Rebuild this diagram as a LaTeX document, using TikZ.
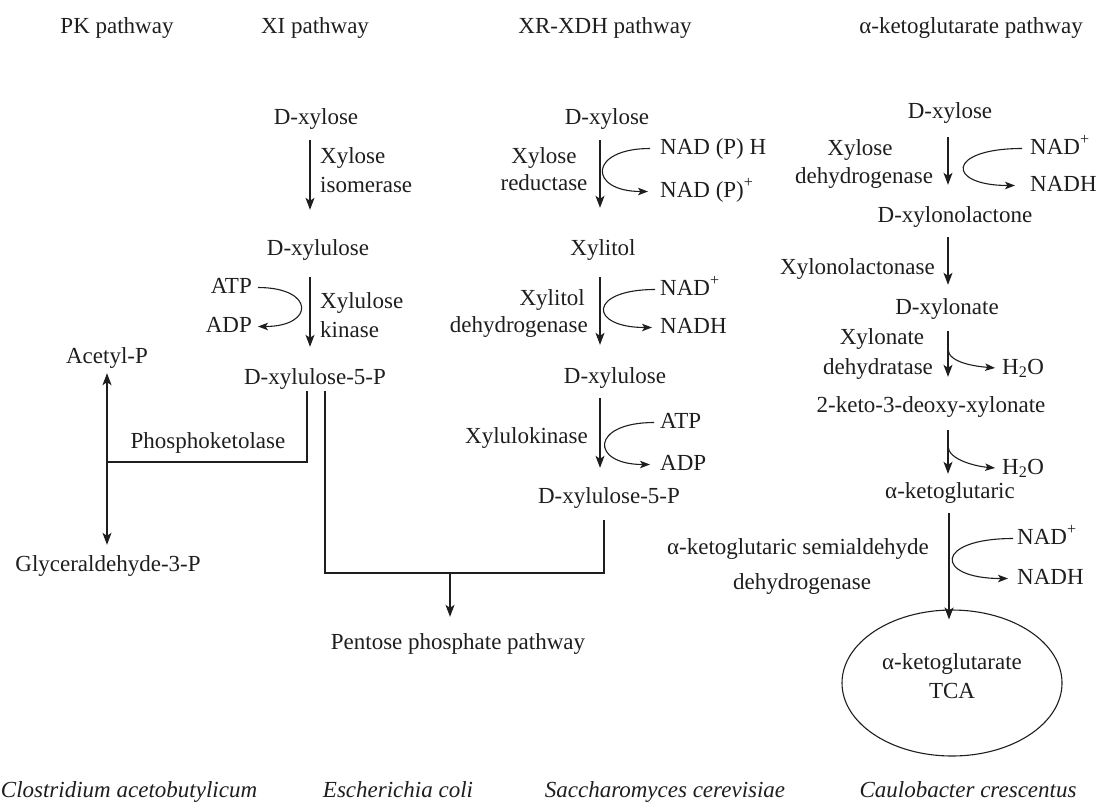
\documentclass[tikz,border=0pt]{standalone}
\usepackage{fontspec}
\setmainfont{Liberation Serif}
\usetikzlibrary{arrows.meta,shapes.geometric,calc}
\definecolor{ink}{HTML}{1E1E1E}
\begin{document}
\begin{tikzpicture}[x=1pt,y=-1pt,
  every node/.style={inner sep=0pt, text=ink, font=\fontsize{23}{27}\selectfont, text height=16pt, text depth=5pt},
  lbl/.style={anchor=base},
  lw/.style={anchor=base west},
  le/.style={anchor=base east},
  sp/.style={anchor=base, font=\fontsize{23}{27}\selectfont\itshape},
  arr/.style={draw=ink, line width=1.2pt, -{Stealth[length=12pt,width=9pt,inset=3pt]}},
  carr/.style={draw=ink, line width=1.1pt, -{Stealth[length=10pt,width=7.5pt,inset=2.5pt]}},
  darr/.style={draw=ink, line width=1.2pt, {Stealth[length=12pt,width=9pt,inset=3pt]}-{Stealth[length=12pt,width=9pt,inset=3pt]}},
  ln/.style={draw=ink, line width=1.2pt}]
\useasboundingbox (0,0) rectangle (1099,804);

% titles
\node[lbl] (tPK) at (117,33) {PK pathway};
\node[lbl] (tXI) at (315,33) {XI pathway};
\node[lbl] (tXR) at (605,33) {XR-XDH pathway};
\node[lbl] (tAK) at (971,33) {α-ketoglutarate pathway};

% XI pathway
\node[lbl] (xi1) at (316,124) {D-xylose};
\node[lw] (xie1a) at (320,163) {Xylose};
\node[lw] (xie1b) at (320,192) {isomerase};
\node[lbl] (xi2) at (318,255) {D-xylulose};
\node[le] (xiatp) at (252,293) {ATP};
\node[le] (xiadp) at (252,332) {ADP};
\node[lw] (xie2a) at (320,308) {Xylulose};
\node[lw] (xie2b) at (320,337) {kinase};
\node[lbl] (xi5p) at (315,384) {D-xylulose-5-P};

\draw[arr, shorten <=11pt, shorten >=29pt] ([xshift=-6pt]xi1.south) -- ([xshift=-6pt]xi1.south |- xi2.north);
\draw[arr, shorten <=17pt, shorten >=21pt] ([xshift=-8pt]xi2.south) -- ([xshift=-8pt]xi2.south |- xi5p.north);
\draw[carr, shorten <=6pt, shorten >=6pt] (xiatp.east) .. controls +(63,0) and +(63,0) .. (xiadp.east);

% PK pathway
\node[lbl] (acp) at (107,363) {Acetyl-P};
\node[lbl] (gly) at (108,571) {Glyceraldehyde-3-P};
\node[lbl] (pkl) at (208,448) {Phosphoketolase};
\coordinate (pkj) at (107,462);
\draw[ln, shorten <=2pt] ([xshift=-8pt]xi5p.south) |- (pkj);
\draw[darr, shorten <=5pt, shorten >=10pt] (acp.south) -- (acp.south |- gly.north);

% XR-XDH pathway
\node[lbl] (xr1) at (607,124) {D-xylose};
\node[lbl] (xre1a) at (544,163) {Xylose};
\node[lbl] (xre1b) at (544,190) {reductase};
\node[lw] (xrc1) at (660,154) {NAD (P) H};
\node[lw] (xrc2) at (660,197) {NAD (P)\textsuperscript{+}};
\node[lbl] (xr2) at (603,255) {Xylitol};
\node[le] (xre2a) at (585,305) {Xylitol};
\node[le] (xre2b) at (588,332) {dehydrogenase};
\node[lw] (xrc3) at (660,295) {NAD\textsuperscript{+}};
\node[lw] (xrc4) at (660,333) {NADH};
\node[lbl] (xr3) at (615,383) {D-xylulose};
\node[le] (xre3) at (588,443) {Xylulokinase};
\node[lw] (xrc5) at (660,428) {ATP};
\node[lw] (xrc6) at (660,470) {ADP};
\node[lbl] (xr5p) at (609,503) {D-xylulose-5-P};

\draw[arr, shorten <=11pt, shorten >=31pt] ([xshift=-7pt]xr1.south) -- ([xshift=-7pt]xr1.south |- xr2.north);
\draw[arr, shorten <=17pt, shorten >=22pt] ([xshift=-3pt]xr2.south) -- ([xshift=-3pt]xr2.south |- xr3.north);
\draw[arr, shorten <=10pt, shorten >=19pt] ([xshift=-15pt]xr3.south) -- ([xshift=-15pt]xr3.south |- xr5p.north);
\draw[carr, shorten <=10pt, shorten >=12pt] (xrc1.west) .. controls +(-72,0) and +(-72,0) .. (xrc2.west);
\draw[carr, shorten <=5pt, shorten >=8pt] (xrc3.west) .. controls +(-72,0) and +(-72,0) .. (xrc4.west);
\draw[carr, shorten <=6pt, shorten >=10pt] (xrc5.west) .. controls +(-70,0) and +(-70,0) .. (xrc6.west);

% merge to pentose phosphate pathway
\coordinate (mj) at (450,573);
\node[lbl] (ppp) at (458,649) {Pentose phosphate pathway};
\draw[ln, shorten <=2pt, shorten >=12pt] ([xshift=10pt]xi5p.south) |- (mj) -| ([xshift=-5pt]xr5p.south);
\draw[arr, shorten >=16pt] (mj) -- (mj |- ppp.north);

% alpha-ketoglutarate pathway
\node[lbl] (ak1) at (950,118) {D-xylose};
\node[lbl] (ake1a) at (860,155) {Xylose};
\node[lbl] (ake1b) at (864,183) {dehydrogenase};
\node[lw] (akc1) at (1030,154) {NAD\textsuperscript{+}};
\node[lw] (akc2) at (1030,191) {NADH};
\node[lbl] (ak2) at (955,222) {D-xylonolactone};
\node[le] (ake2) at (935,274) {Xylonolactonase};
\node[lbl] (ak3) at (947,314) {D-xylonate};
\node[lbl] (ake3a) at (882,344) {Xylonate};
\node[lbl] (ake3b) at (878,374) {dehydratase};
\node[lw] (akw1) at (1002,374) {H\textsubscript{2}O};
\node[lbl] (ak4) at (931,412) {2-keto-3-deoxy-xylonate};
\node[lw] (akw2) at (1002,474) {H\textsubscript{2}O};
\node[lbl] (ak5) at (950,498) {α-ketoglutaric};
\node[lbl] (ake4a) at (798,554) {α-ketoglutaric semialdehyde};
\node[lbl] (ake4b) at (802,589) {dehydrogenase};
\node[lw] (akc3) at (1017,544) {NAD\textsuperscript{+}};
\node[lw] (akc4) at (1017,584) {NADH};
\node[draw=ink, line width=1.1pt, ellipse, minimum width=220pt, minimum height=146pt] (tca) at (952,683) {};
\node[lbl] (tca1) at (952,669) {α-ketoglutarate};
\node[lbl] (tca2) at (952,698) {TCA};

\draw[arr, shorten <=14pt, shorten >=21pt] ([xshift=-2pt]ak1.south) -- ([xshift=-2pt]ak1.south |- ak2.north);
\draw[arr, shorten <=10pt, shorten >=13pt] ([xshift=-7pt]ak2.south) -- ([xshift=-7pt]ak2.south |- ak3.north);
\draw[arr, shorten <=12pt, shorten >=19pt] ([xshift=1pt]ak3.south) -- ([xshift=1pt]ak3.south |- ak4.north);
\draw[arr, shorten <=13pt, shorten >=8pt] ([xshift=17pt]ak4.south) -- ([xshift=17pt]ak4.south |- ak5.north);
\draw[arr, shorten <=10pt, shorten >=-10pt] ([xshift=-1pt]ak5.south) -- ([xshift=-1pt]ak5.south |- tca.north);
\draw[carr, shorten <=8pt, shorten >=15pt] (akc1.west) .. controls +(-84,0) and +(-84,0) .. (akc2.west);
\draw[carr, shorten <=4pt, shorten >=9pt] (akc3.west) .. controls +(-83,0) and +(-83,0) .. (akc4.west);
\coordinate (b1) at (948,349);
\coordinate (b2) at (948,446);
\draw[carr, shorten >=7pt] (b1) .. controls +(0,14) and +(-25,-2) .. (akw1.west);
\draw[carr, shorten >=7pt] (b2) .. controls +(0,14) and +(-25,-2) .. (akw2.west);

% species
\node[sp] (s1) at (129,797) {Clostridium acetobutylicum};
\node[sp] (s2) at (398,797) {Escherichia coli};
\node[sp] (s3) at (665,797) {Saccharomyces cerevisiae};
\node[sp] (s4) at (968,797) {Caulobacter crescentus};
\end{tikzpicture}
\end{document}
